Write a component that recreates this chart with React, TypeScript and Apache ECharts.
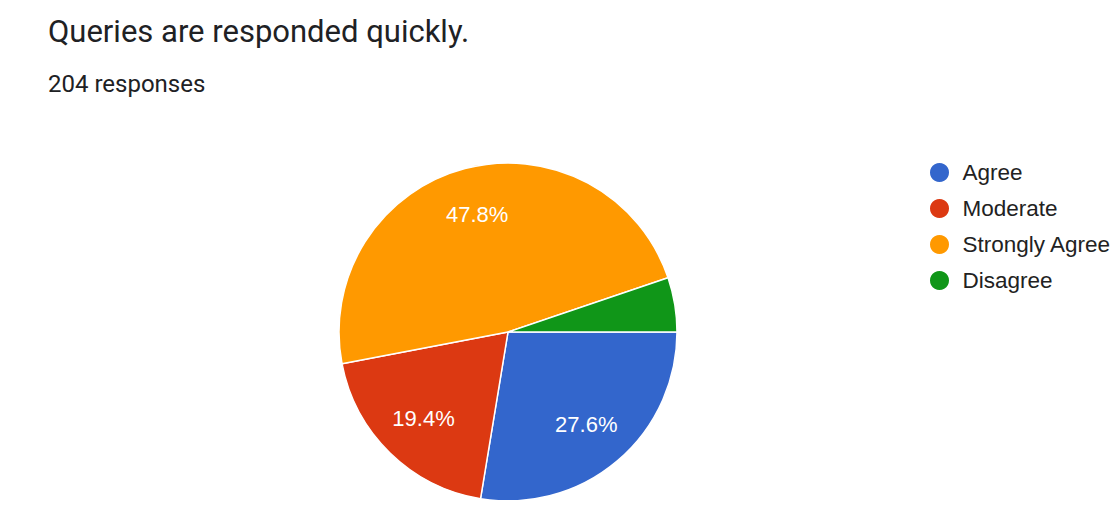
import React, { useEffect, useRef } from "react";
import * as echarts from "echarts";

const titleText = "Queries are responded quickly.";
const subtitleText = "204 responses";
const categories = ["Agree", "Moderate", "Strongly Agree", "Disagree"];
const percents = [27.6, 19.4, 47.8, 5.2];
const colors = ["#3366cc", "#dc3912", "#ff9900", "#109618"];

export default function App() {
  const ref = useRef<HTMLDivElement>(null);
  useEffect(() => {
    if (!ref.current) return;
    const chart = echarts.init(ref.current, undefined, { renderer: "svg" });
    const data = categories.map((name, i) => ({
      name,
      value: percents[i],
      itemStyle: { color: colors[i] },
    }));
    chart.setOption({
      animation: false,
      backgroundColor: "#ffffff",
      title: [
        {
          text: titleText,
          left: 35,
          top: 3,
          textStyle: { fontFamily: "Roboto", fontSize: 31, fontWeight: "normal", color: "#202124" },
        },
        {
          text: subtitleText,
          left: 35,
          top: 59,
          textStyle: { fontFamily: "Roboto", fontSize: 24, fontWeight: "normal", color: "#202124" },
        },
      ],
      legend: {
        orient: "vertical",
        left: 915,
        top: 148,
        icon: "circle",
        itemWidth: 36,
        itemHeight: 21,
        itemGap: 13,
        data: categories,
        textStyle: { fontFamily: "Liberation Sans, Arial", fontSize: 22.5, color: "#222222" },
      },
      series: [
        {
          type: "pie",
          center: [500, 324],
          radius: 169,
          startAngle: 0,
          clockwise: true,
          data,
          itemStyle: { borderColor: "#ffffff", borderWidth: 1.5 },
          label: { show: false },
          labelLine: { show: false },
          emphasis: { disabled: true },
        },
        {
          type: "pie",
          center: [500, 324],
          radius: [96, 140],
          startAngle: 0,
          clockwise: true,
          silent: true,
          data: categories.map((name, i) => ({ name, value: percents[i], itemStyle: { color: "transparent" } })),
          itemStyle: { color: "transparent" },
          label: {
            show: true,
            position: "inside",
            formatter: (p: any) => (p.value >= 10 ? p.value.toFixed(1) + "%" : ""),
            fontFamily: "Liberation Sans, Arial",
            fontSize: 22,
            color: "#ffffff",
          },
          labelLine: { show: false },
          emphasis: { disabled: true },
        },
      ],
    });
    return () => chart.dispose();
  }, []);
  return <div ref={ref} style={{ width: 1104, height: 492 }} />;
}
